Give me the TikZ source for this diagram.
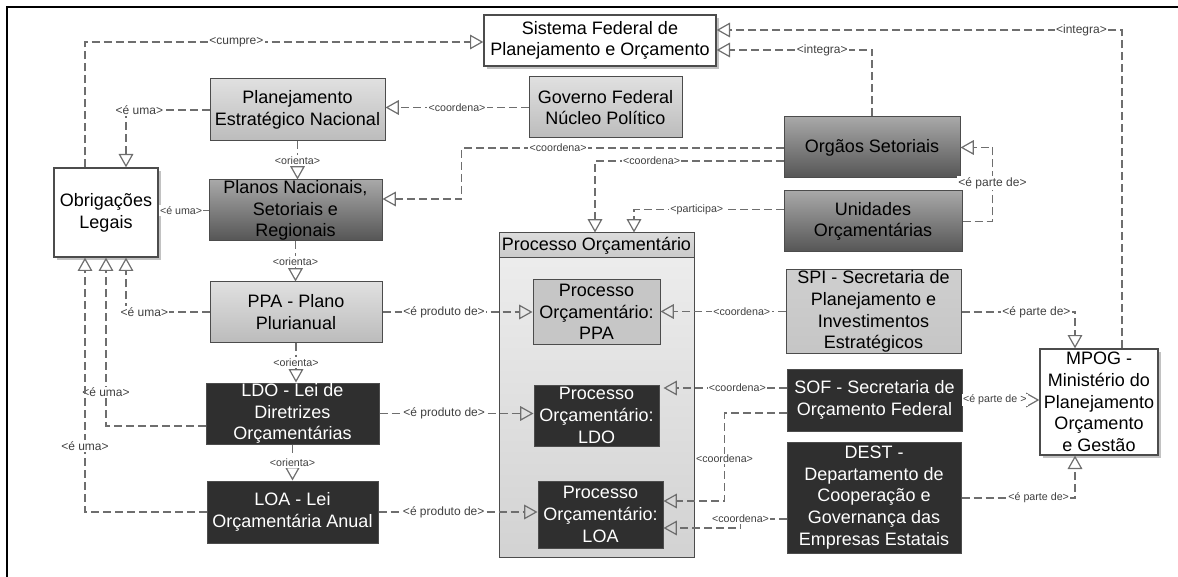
\documentclass[tikz,border=0pt]{standalone}
\usepackage{fontspec}
\setmainfont{Liberation Sans}
\usetikzlibrary{arrows.meta,calc,shadows}

\definecolor{lgtop}{HTML}{E0E0E0}
\definecolor{lgbot}{HTML}{BCBCBC}
\definecolor{mdtop}{HTML}{A8A8A8}
\definecolor{mdbot}{HTML}{555555}
\definecolor{dkfill}{HTML}{2F2F2F}
\definecolor{relgray}{HTML}{6E6E6E}

\tikzset{
  sz/.style 2 args={minimum width=#1*0.75pt, minimum height=#2*0.75pt},
  box/.style={draw=black!70, line width=0.75pt, align=center, inner sep=0pt,
    font=\fontsize{13.5}{16.3}\selectfont},
  whitebox/.style={box, fill=white, line width=1pt,
    drop shadow={shadow xshift=2pt, shadow yshift=-2pt, fill=black!40, opacity=0.6}},
  lightbox/.style={box, top color=lgtop, bottom color=lgbot},
  midbox/.style={box, top color=mdtop, bottom color=mdbot},
  darkbox/.style={box, fill=dkfill, text=white},
  conn/.style={draw=relgray, line width=1.1pt, dash pattern=on 6pt off 3pt},
  rel/.style={conn, -{Triangle[open, length=10pt, width=11pt, line width=0.9pt]}},
  lbl/.style={fill=white, inner sep=1pt, text=black!75, font=\fontsize{9}{10}\selectfont},
  lbls/.style={lbl, font=\fontsize{8}{9}\selectfont},
}

\begin{document}
\begin{tikzpicture}[x=0.75pt, y=-0.75pt]
  \useasboundingbox (0,0) rectangle (1178,577);
  % Frame
  \draw [line width=1.6pt] (7,577) -- (7,7) -- (1178,7);%

  % Drawing box Sistema Federal
  \node [whitebox, sz={232}{51}] (sis) at (600.0,40.5) {Sistema Federal de\\Planejamento e Orçamento};%
  % Drawing box Governo Federal
  \node [lightbox, sz={153}{61}] (gov) at (605.5,107.5) {Governo Federal\\Núcleo Político};%
  % Drawing box Planejamento Estrategico
  \node [lightbox, sz={175}{62}] (pen) at (297.5,110.0) {Planejamento\\Estratégico Nacional};%
  % Drawing box Planos
  \node [midbox, sz={173}{61}] (pln) at (295.5,210.5) {Planos Nacionais,\\Setoriais e\\Regionais};%
  % Drawing box Obrigacoes
  \node [whitebox, sz={104}{89}] (obr) at (106.0,212.5) {Obrigações\\Legais};%
  % Drawing box PPA, LDO, LOA
  \node [lightbox, sz={172}{60}] (ppa) at (296.0,312.0) {PPA - Plano\\Plurianual};%
  \node [darkbox, sz={173}{61}] (ldo) at (292.5,413.5) {LDO - Lei de\\Diretrizes\\Orçamentárias};%
  \node [darkbox, sz={171}{62}] (loa) at (292.5,512.0) {LOA - Lei\\Orçamentária Anual};%

  % Drawing container Processo Orcamentario
  \node [box, top color=gray!13, bottom color=gray!35, sz={195}{324}] (proc) at (596.5,395.0) {};%
  \node [box, top color=gray!28, bottom color=gray!42, sz={195}{25}] (prochead) at (596.5,245.5) {Processo Orçamentário};%
  \node [box, fill=gray!45, sz={127}{64}] (pppa) at (596.5,312.0) {Processo\\Orçamentário:\\PPA};%
  \node [darkbox, sz={125}{61}] (pldo) at (596.5,415.5) {Processo\\Orçamentário:\\LDO};%
  \node [darkbox, sz={125}{67}] (ploa) at (600.5,514.5) {Processo\\Orçamentário:\\LOA};%

  % Drawing boxes on the right
  \node [midbox, sz={176}{61}] (org) at (872.0,147.5) {Orgãos Setoriais};%
  \node [midbox, sz={178}{61}] (uni) at (873.0,221.5) {Unidades\\Orçamentárias};%
  \node [lightbox, top color=gray!38, bottom color=gray!45, sz={175}{83}] (spi) at (873.5,311.5) {SPI - Secretaria de\\Planejamento e\\Investimentos\\Estratégicos};%
  \node [darkbox, sz={175}{62}] (sof) at (874.5,400.0) {SOF - Secretaria de\\Orçamento Federal};%
  \node [darkbox, sz={174}{111}] (dest) at (874.0,497.5) {DEST -\\Departamento de\\Cooperação e\\Governança das\\Empresas Estatais};%
  \node [whitebox, sz={118}{106}] (mpog) at (1099.0,402.0) {MPOG -\\Ministério do\\Planejamento\\Orçamento\\e Gestão};%

  % Drawing connectors to Sistema Federal
  \draw [rel] ($(obr.north)+(-21,0)$) |- node [lbl, pos=0.69] {<cumpre>} ($(sis.west)+(0,1.5)$);%
  \draw [rel] ($(mpog.north)+(23,0)$) |- node [lbl, pos=0.55] {<integra>} ($(sis.east)+(0,-10.5)$);%
  \draw [rel] (org.north) |- node [lbl, pos=0.66] {<integra>} ($(sis.east)+(0,9.5)$);%

  % Drawing connectors around Planejamento
  \draw [rel] (pen.west) -| node [lbl, pos=0.42] {<é uma>} ($(obr.north)+(20,0)$);%
  \draw [rel] (gov.west) -- node [lbls] {<coordena>} (pen.east |- gov.west);%
  \draw [rel] (pen.south) -- node [lbls] {<orienta>} (pen.south |- pln.north);%
  \draw [conn] (pln.west) -- node [lbls, pos=0.55] {<é uma>} (obr.east |- pln.west);%
  \draw [rel] ($(org.west)+(0,0.5)$) -| node [lbls, pos=0.35] {<coordena>} ($(pln.east)+(79,-11.5)$) -- ($(pln.east)+(0,-11.5)$);%
  \draw [rel] ($(org.west)+(0,13.5)$) -| node [lbls, pos=0.35] {<coordena>} ($(prochead.north)+(-1.5,0)$);%
  \draw [rel] ($(uni.west)+(0,-12)$) -| node [lbls, pos=0.29] {<participa>} ($(prochead.north)+(37.5,0)$);%
  \draw [rel] (uni.east) -| node [lbl, pos=0.76] {<é parte de>} ($(org.east)+(32,0)$) -- (org.east);%

  % Drawing connectors of PPA
  \draw [rel] (pln.south) -- node [lbls] {<orienta>} (pln.south |- ppa.north);%
  \draw [rel] (ppa.west) -| node [lbl, pos=0.39] {<é uma>} ($(obr.south)+(20,0)$);%
  \draw [rel] (ppa.east) -- node [lbl, pos=0.41] {<é produto de>} (pppa.west);%
  \draw [rel] (spi.west) -- node [lbls, pos=0.35] {<coordena>} (pppa.east |- spi.west);%
  \draw [rel] ($(spi.east)+(0,0.5)$) -| node [lbl, pos=0.33] {<é parte de>} ($(mpog.north)+(-24,0)$);%

  % Drawing connectors of LDO
  \draw [rel] (ppa.south) -- node [lbls] {<orienta>} (ppa.south |- ldo.north);%
  \draw [rel] ($(ldo.west)+(0,12.5)$) -| node [lbl, pos=0.6] {<é uma>} (obr.south);%
  \draw [rel] (ldo.east) -- node [lbl, pos=0.42] {<é produto de>} (pldo.west |- ldo.east);%
  \draw [rel] ($(sof.west)+(0,-12)$) -- node [lbls, pos=0.4] {<coordena>} ($(pldo.east)+(4,-27.5)$);%
  \draw [rel] ($(sof.west)+(0,13)$) -| node [lbls, pos=0.76] {<coordena>} ($(ploa.east)+(61,-13.5)$) -- ($(ploa.east)+(0,-13.5)$);%
  \draw [rel] (sof.east) -- node [lbls, pos=0.42] {<é parte de >} (mpog.west |- sof.east);%

  % Drawing connectors of LOA
  \draw [rel] (ldo.south) -- node [lbls] {<orienta>} (ldo.south |- loa.north);%
  \draw [rel] (loa.west) -| node [lbl, pos=0.63] {<é uma>} ($(obr.south)+(-21,0)$);%
  \draw [rel] (loa.east) -- node [lbl, pos=0.41] {<é produto de>} (ploa.west |- loa.east);%
  \draw [rel] ($(dest.west)+(0,21.5)$) -| node [lbls, pos=0.5] {<coordena>} ($(ploa.east)+(77,13.5)$) -- ($(ploa.east)+(0,13.5)$);%
  \draw [rel] ($(dest.east)+(0,0.5)$) -| node [lbls, pos=0.34] {<é parte de>} ($(mpog.south)+(-24,0)$);%
\end{tikzpicture}
\end{document}
